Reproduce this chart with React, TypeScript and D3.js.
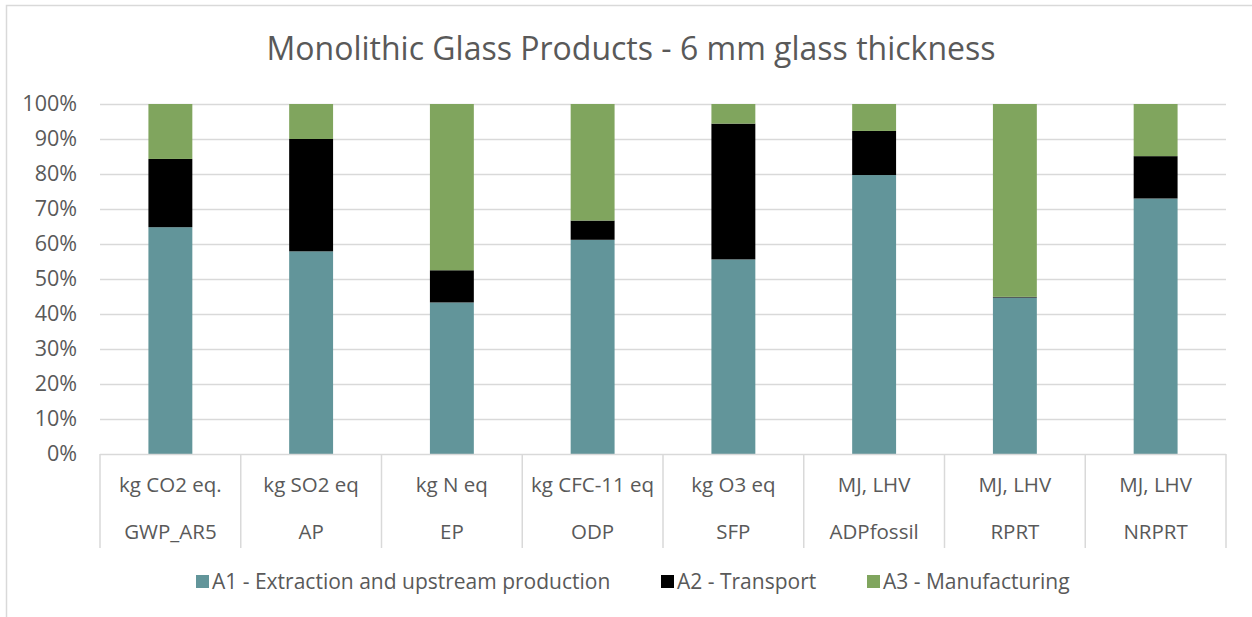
import { useEffect, useRef } from 'react';
import * as d3 from 'd3';

// categories (impact indicator + unit)
const indicators = ['GWP_AR5', 'AP', 'EP', 'ODP', 'SFP', 'ADPfossil', 'RPRT', 'NRPRT'];
const units = ['kg CO2 eq.', 'kg SO2 eq', 'kg N eq', 'kg CFC-11 eq', 'kg O3 eq', 'MJ, LHV', 'MJ, LHV', 'MJ, LHV'];

// shares in %
const a1 = [64.8, 57.9, 43.3, 61.2, 55.6, 79.7, 44.7, 73.0];
const a2 = [19.5, 32.1, 9.2, 5.5, 38.8, 12.6, 0.2, 12.1];
const a3 = [15.7, 10.0, 47.5, 33.3, 5.6, 7.7, 55.1, 14.9];

const seriesNames = ['A1 - Extraction and upstream production', 'A2 - Transport', 'A3 - Manufacturing'];
const seriesColors = ['#62959A', '#000000', '#80A55E'];
const yTicks = [0, 10, 20, 30, 40, 50, 60, 70, 80, 90, 100];

const App = () => {
  const svgRef = useRef<SVGSVGElement>(null);

  useEffect(() => {
    document.body.style.margin = '0';

    const W = 1252, H = 617;
    const margin = { top: 104, right: 26, bottom: 163, left: 100 };
    const width = W - margin.left - margin.right;
    const height = H - margin.top - margin.bottom;
    const font = "'Open Sans', sans-serif";
    const textCol = '#595959';
    const gridCol = '#d9d9d9';

    const svgEl = d3.select(svgRef.current);
    svgEl.selectAll('*').remove();
    svgEl.attr('width', W).attr('height', H).style('display', 'block');

    // chart frame
    svgEl.append('rect')
      .attr('x', 0).attr('y', 0).attr('width', W).attr('height', H).attr('fill', '#fff');
    svgEl.append('path')
      .attr('d', `M6.5,${H} V5.5 H${W}`)
      .attr('fill', 'none').attr('stroke', gridCol).attr('stroke-width', 1.5);

    // title
    svgEl.append('text')
      .attr('x', 631).attr('y', 60)
      .attr('text-anchor', 'middle')
      .style('font-family', font).style('font-size', '32px')
      .attr('fill', textCol)
      .text('Monolithic Glass Products - 6 mm glass thickness');

    const svg = svgEl.append('g').attr('transform', `translate(${margin.left},${margin.top})`);

    const x = d3.scaleBand<string>().domain(indicators).range([0, width]).paddingInner(0.688).paddingOuter(0.344);
    const band = width / indicators.length;
    const y = d3.scaleLinear().domain([0, 100]).range([height, 0]);

    // gridlines
    svg.append('g').selectAll('line').data(yTicks.filter(t => t > 0)).join('line')
      .attr('x1', 0).attr('x2', width)
      .attr('y1', d => y(d) + 0.5).attr('y2', d => y(d) + 0.5)
      .attr('stroke', gridCol).attr('stroke-width', 1.5);

    // y axis labels
    const yAxis = svg.append('g')
      .call(d3.axisLeft(y).tickValues(yTicks).tickFormat(d => `${d}%`).tickSize(0).tickPadding(23));
    yAxis.select('.domain').remove();
    yAxis.selectAll('text')
      .style('font-family', font).style('font-size', '21.5px').attr('fill', textCol);

    // stacked bars
    const rows = indicators.map((k, i) => ({ key: k, a1: a1[i], a2: a2[i], a3: a3[i] }));
    const stack = d3.stack<any>().keys(['a1', 'a2', 'a3'])(rows);
    svg.append('g').selectAll('g').data(stack).join('g')
      .attr('fill', (_, i) => seriesColors[i])
      .selectAll('rect').data(d => d).join('rect')
      .attr('x', d => x(d.data.key)!)
      .attr('width', x.bandwidth())
      .attr('y', d => y(d[1]))
      .attr('height', d => y(d[0]) - y(d[1]));

    // category axis: baseline + separators + two label rows
    const ax = svg.append('g').attr('transform', `translate(0,${height})`);
    ax.append('line').attr('x1', 0).attr('x2', width).attr('y1', 0.5).attr('y2', 0.5)
      .attr('stroke', gridCol).attr('stroke-width', 1.5);
    ax.selectAll('line.sep').data(d3.range(indicators.length + 1)).join('line')
      .attr('class', 'sep')
      .attr('x1', i => i * band).attr('x2', i => i * band)
      .attr('y1', 0).attr('y2', 94)
      .attr('stroke', gridCol).attr('stroke-width', 1.5);
    ax.selectAll('text.unit').data(units).join('text')
      .attr('class', 'unit')
      .attr('x', (_, i) => x(indicators[i])! + x.bandwidth() / 2)
      .attr('y', 38)
      .attr('text-anchor', 'middle')
      .style('font-family', font).style('font-size', '20.5px').attr('fill', textCol)
      .text(d => d);
    ax.selectAll('text.ind').data(indicators).join('text')
      .attr('class', 'ind')
      .attr('x', d => x(d)! + x.bandwidth() / 2)
      .attr('y', 85)
      .attr('text-anchor', 'middle')
      .style('font-family', font).style('font-size', '20.5px').attr('fill', textCol)
      .text(d => d);

    // legend
    const legendX = [196, 661, 867];
    const lg = svgEl.append('g').attr('transform', 'translate(0,582)');
    const items = lg.selectAll('g').data(seriesNames).join('g')
      .attr('transform', (_, i) => `translate(${legendX[i]},0)`);
    items.append('rect').attr('x', 0).attr('y', -7).attr('width', 13).attr('height', 13)
      .attr('fill', (_, i) => seriesColors[i]);
    items.append('text').attr('x', 16).attr('y', 0).attr('dy', '0.35em')
      .style('font-family', font).style('font-size', '21px').attr('fill', textCol)
      .text(d => d);
  }, []);

  return <svg ref={svgRef}></svg>;
};

export default App;
